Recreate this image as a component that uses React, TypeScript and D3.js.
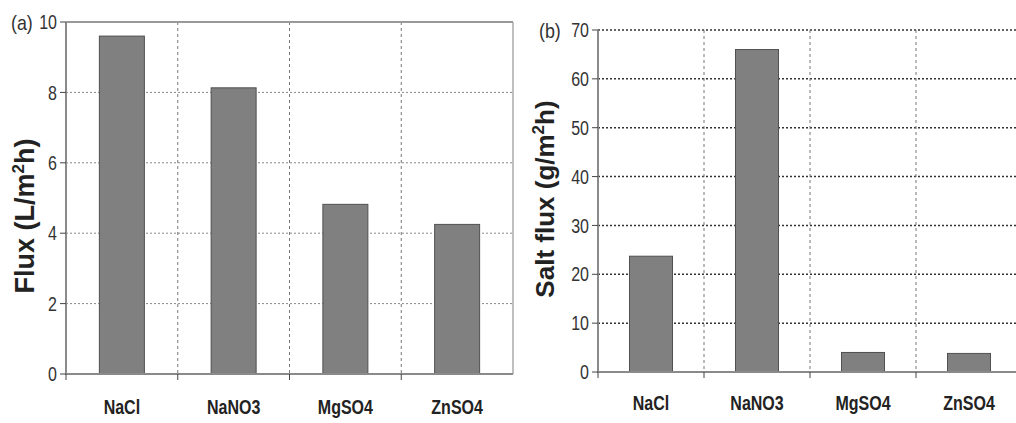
import * as d3 from "d3";

const categories = ["NaCl", "NaNO3", "MgSO4", "ZnSO4"];
const waterFlux = [9.6, 8.13, 4.82, 4.25];
const saltFlux = [23.7, 66, 4.0, 3.8];
const fluxTicks = [0, 2, 4, 6, 8, 10];
const saltTicks = [0, 10, 20, 30, 40, 50, 60, 70];

const FONT = "'Liberation Sans', Arial, sans-serif";
const SQ = 0.8; // horizontal squeeze to mimic the narrow font

type PanelProps = {
  tag: string;
  values: number[];
  ticks: number[];
  yMax: number;
  x0: number;
  x1: number;
  yTop: number;
  yBottom: number;
  label: JSX.Element;
  labelSize: number;
  labelX: number;
  labelY: number;
  catY: number;
  tagX: number;
  frame: boolean;
  hGrid: string;
  hGridW: number;
  barW: number;
};

function Panel(p: PanelProps) {
  const x = d3.scaleBand().domain(categories).range([p.x0, p.x1]).padding(0);
  const y = d3.scaleLinear().domain([0, p.yMax]).range([p.yBottom, p.yTop]);
  const bounds = categories.map((c) => x(c)!).concat([p.x1]);
  return (
    <g>
      {/* horizontal grid */}
      {p.ticks
        .filter((t) => t > 0 && (!p.frame || t < p.yMax))
        .map((t) => (
          <line key={"h" + t} x1={p.x0} x2={p.x1} y1={y(t)} y2={y(t)}
            stroke={p.hGrid} strokeWidth={p.hGridW} strokeDasharray="2,2" />
        ))}
      {/* vertical grid */}
      {bounds.slice(1, 4).map((b, i) => (
        <line key={"v" + i} x1={b} x2={b} y1={p.yTop} y2={p.yBottom}
          stroke="#777" strokeWidth={1} strokeDasharray="3,3" />
      ))}
      {p.frame && (
        <g>
          <line x1={p.x0} x2={p.x1} y1={p.yTop} y2={p.yTop} stroke="#999" strokeWidth={2} />
          <line x1={p.x1} x2={p.x1} y1={p.yTop} y2={p.yBottom} stroke="#aaa" strokeWidth={1.5} />
        </g>
      )}
      {/* bars */}
      {categories.map((c, i) => (
        <rect key={c}
          x={x(c)! + (x.bandwidth() - p.barW) / 2}
          y={y(p.values[i])}
          width={p.barW}
          height={y(0) - y(p.values[i])}
          fill="#808080" stroke="#505050" strokeWidth={1} />
      ))}
      {/* axes */}
      <line x1={p.x0} x2={p.x0} y1={p.yTop} y2={p.yBottom + 1} stroke="#8a8a8a" strokeWidth={2} />
      <line x1={p.x0} x2={p.x1} y1={p.yBottom} y2={p.yBottom} stroke="#8a8a8a" strokeWidth={2} />
      {bounds.slice(0, 4).map((b, i) => (
        <line key={"xt" + i} x1={b} x2={b} y1={p.yBottom} y2={p.yBottom + 6} stroke="#444" strokeWidth={1} />
      ))}
      {p.ticks.map((t) => (
        <g key={"yt" + t}>
          <line x1={p.x0 - 6} x2={p.x0} y1={y(t)} y2={y(t)} stroke="#444" strokeWidth={1} />
          <text transform={`translate(${p.x0 - 9},${y(t)}) scale(${SQ},1)`} dy="0.36em" textAnchor="end"
            fontFamily={FONT} fontSize={20} fill="#333">{t}</text>
        </g>
      ))}
      {categories.map((c) => (
        <text key={"c" + c} transform={`translate(${x(c)! + x.bandwidth() / 2},${p.catY}) scale(${SQ},1)`}
          textAnchor="middle" fontFamily={FONT} fontWeight="bold" fontSize={20} fill="#222">{c}</text>
      ))}
      <text transform={`translate(${p.tagX},${p.yTop}) scale(0.85,1)`} dy="0.36em"
        fontFamily={FONT} fontSize={21} fill="#333">{p.tag}</text>
      <text transform={`translate(${p.labelX},${p.labelY}) rotate(-90)`} textAnchor="middle"
        fontFamily={FONT} fontWeight="bold" fontSize={p.labelSize} fill="#222">
        {p.label}
      </text>
    </g>
  );
}

export default function App() {
  return (
    <svg width={1016} height={423} style={{ position: "absolute", left: 0, top: 0, background: "#fff" }}>
      <Panel tag="(a)" values={waterFlux} ticks={fluxTicks} yMax={10}
        x0={66} x1={513} yTop={22} yBottom={374}
        label={<>Flux (L/m<tspan dy="-10" fontSize={17}>2</tspan><tspan dy="10">h)</tspan></>}
        labelSize={27} labelX={34} labelY={216} catY={414} tagX={11} frame={true}
        hGrid="#888" hGridW={1} barW={45} />
      <Panel tag="(b)" values={saltFlux} ticks={saltTicks} yMax={70}
        x0={598} x1={1022} yTop={30} yBottom={372}
        label={<>Salt flux (g/m<tspan dy="-10" fontSize={17}>2</tspan><tspan dy="10">h)</tspan></>}
        labelSize={26} labelX={554} labelY={199} catY={410} tagX={539} frame={false}
        hGrid="#333" hGridW={1.5} barW={43} />
    </svg>
  );
}
